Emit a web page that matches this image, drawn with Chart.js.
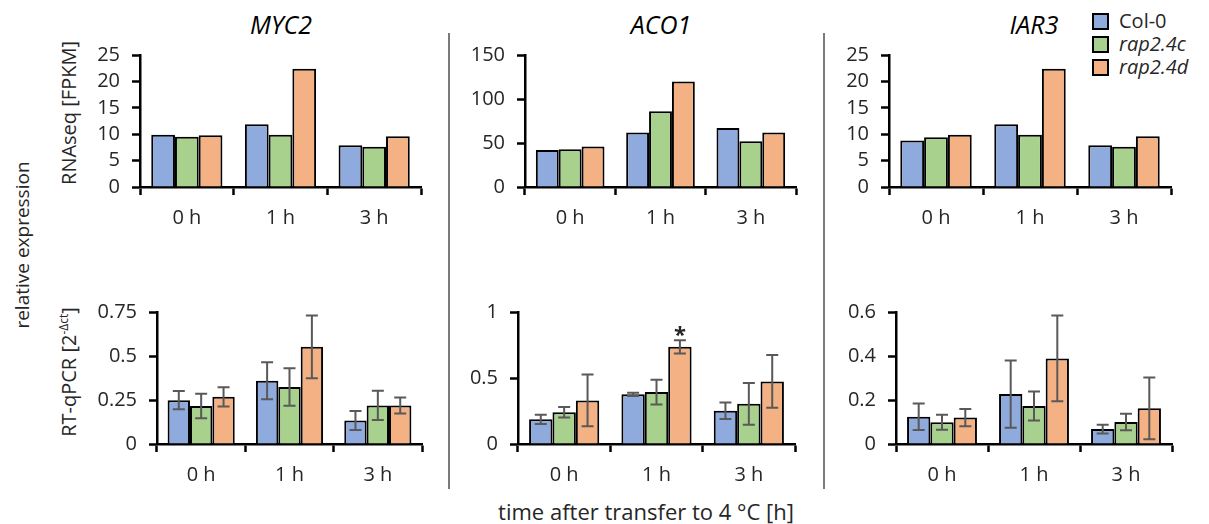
<!DOCTYPE html>
<html>
<head>
<meta charset="utf-8">
<script src="https://cdn.jsdelivr.net/npm/chart.js@4.4.1/dist/chart.umd.min.js"></script>
<style>
  body { margin: 0; background: #fff; }
  #wrap { position: relative; width: 1209px; height: 524px; overflow: hidden;
          font-family: "Open Sans", sans-serif; color: #262626; }
  canvas { position: absolute; }
  .lbl { position: absolute; white-space: nowrap; transform: translate(-50%, -50%); }
  .rot { transform: translate(-50%, -50%) rotate(-90deg); }
  .gene { font-style: italic; font-size: 25px; color: #000; }
  .sep { position: absolute; width: 2px; background: #7a7a7a; }
  .leg { position: absolute; left: 1092px; font-size: 20px; height: 24px; line-height: 24px; }
  .leg span.box { display: inline-block; width: 13px; height: 13px; border: 2px solid #000;
                  vertical-align: -2px; margin-right: 10px; }
  sup { font-size: 12px; }
</style>
</head>
<body>
<div id="wrap">
  <div class="lbl gene" style="left:281px;top:24px">MYC2</div>
  <div class="lbl gene" style="left:661px;top:24px">ACO1</div>
  <div class="lbl gene" style="left:1034px;top:24px">IAR3</div>

  <div class="lbl rot" style="left:22px;top:245px;font-size:19px">relative expression</div>
  <div class="lbl rot" style="left:68px;top:113px;font-size:20px">RNAseq [FPKM]</div>
  <div class="lbl rot" style="left:68px;top:372px;font-size:20px">RT-qPCR [2<sup>-Δct</sup>]</div>
  <div class="lbl" style="left:646px;top:511px;font-size:22px">time after transfer to 4 °C [h]</div>

  <div class="sep" style="left:448px;top:33px;height:456px"></div>
  <div class="sep" style="left:823px;top:33px;height:456px"></div>

  <div id="legend"></div>
</div>

<script>
const timePoints = ["0 h", "1 h", "3 h"];
const genotypes = ["Col-0", "rap2.4c", "rap2.4d"];
const genoColors = ["#8FAADC", "#A9D18E", "#F4B183"];

// rows = genotypes (Col-0, rap2.4c, rap2.4d), columns = 0 h, 1 h, 3 h
const myc2Rna = [[9.9, 11.9, 7.9], [9.5, 9.9, 7.6], [9.8, 22.4, 9.6]];
const aco1Rna = [[42, 62, 67], [43, 86, 52], [46, 120, 62]];
const iar3Rna = [[8.8, 11.9, 7.9], [9.4, 9.9, 7.6], [9.9, 22.4, 9.6]];

const myc2Qpcr = [[0.249, 0.359, 0.133], [0.216, 0.324, 0.219], [0.268, 0.552, 0.219]];
const myc2QpcrErr = [[0.052, 0.105, 0.054], [0.07, 0.107, 0.083], [0.055, 0.178, 0.045]];
const aco1Qpcr = [[0.187, 0.376, 0.252], [0.24, 0.393, 0.304], [0.33, 0.736, 0.474]];
const aco1QpcrErr = [[0.035, 0.012, 0.063], [0.04, 0.093, 0.158], [0.196, 0.05, 0.2]];
const iar3Qpcr = [[0.124, 0.227, 0.068], [0.099, 0.173, 0.1], [0.12, 0.389, 0.162]];
const iar3QpcrErr = [[0.06, 0.153, 0.02], [0.034, 0.066, 0.037], [0.039, 0.195, 0.14]];
const aco1QpcrStars = [["", "", ""], ["", "", ""], ["", "*", ""]];

// y axis ranges
const rnaMax = [25, 150, 25], rnaStep = [5, 50, 5];
const qpcrMax = [0.75, 1, 0.6], qpcrStep = [0.25, 0.5, 0.2];

/* ==============================
   ERROR BARS + STARS
================================ */
const errorBars = {
    id: "errorBars",
    afterDatasetsDraw(chart, args, opts) {
        if (!opts.err) return;
        const ctx = chart.ctx;
        const y = chart.scales.y;
        ctx.save();
        chart.data.datasets.forEach((ds, i) => {
            chart.getDatasetMeta(i).data.forEach((bar, j) => {
                const v = ds.data[j], e = opts.err[i][j];
                const yt = y.getPixelForValue(v + e);
                const yb = y.getPixelForValue(Math.max(v - e, 0));
                ctx.strokeStyle = "#595959";
                ctx.lineWidth = 2;
                ctx.beginPath();
                ctx.moveTo(bar.x, yt); ctx.lineTo(bar.x, yb);
                ctx.moveTo(bar.x - 6, yt); ctx.lineTo(bar.x + 6, yt);
                ctx.moveTo(bar.x - 6, yb); ctx.lineTo(bar.x + 6, yb);
                ctx.stroke();
                if (opts.stars && opts.stars[i][j]) {
                    ctx.fillStyle = "#262626";
                    ctx.font = "bold 22px 'Open Sans'";
                    ctx.textAlign = "center";
                    ctx.textBaseline = "alphabetic";
                    ctx.fillText(opts.stars[i][j], bar.x, yt + 2);
                }
            });
        });
        ctx.restore();
    }
};

/* ==============================
   ONE PANEL
================================ */
function panel(area, values, max, step, err, stars) {
    const padTop = 14, padRight = 8, yw = 80, xh = 48;
    const cv = document.createElement("canvas");
    const w = area.r - area.l + yw + padRight;
    const h = area.b - area.t + padTop + xh;
    cv.width = w; cv.height = h;
    cv.style.left = (area.l - yw) + "px";
    cv.style.top = (area.t - padTop) + "px";
    document.getElementById("wrap").appendChild(cv);

    return new Chart(cv, {
        type: "bar",
        data: {
            labels: timePoints,
            datasets: genotypes.map((g, i) => ({
                label: g,
                data: values[i],
                backgroundColor: genoColors[i],
                borderColor: "#000",
                borderWidth: 2,
                categoryPercentage: 0.76,
                barPercentage: 1.0
            }))
        },
        options: {
            responsive: false,
            animation: false,
            layout: { padding: { top: padTop, right: padRight, left: 0, bottom: 0 } },
            plugins: {
                legend: { display: false },
                tooltip: { enabled: false },
                errorBars: { err: err, stars: stars }
            },
            scales: {
                x: {
                    afterFit: s => { s.height = xh; },
                    border: { display: true, color: "#000", width: 2.5 },
                    grid: { offset: true, drawOnChartArea: false, drawTicks: true,
                            tickLength: 8, tickColor: "#000", tickWidth: 2.5 },
                    ticks: { color: "#262626", padding: 11, maxRotation: 0, autoSkip: false,
                             font: { family: "Open Sans", size: 20 } }
                },
                y: {
                    min: 0, max: max,
                    afterFit: s => { s.width = yw; },
                    border: { display: true, color: "#000", width: 2.5 },
                    grid: { drawOnChartArea: false, drawTicks: true,
                            tickLength: 8, tickColor: "#000", tickWidth: 2.5 },
                    ticks: { stepSize: step, autoSkip: false, color: "#262626", padding: 12,
                             font: { family: "Open Sans", size: 20 },
                             callback: v => String(+v.toFixed(2)) }
                }
            }
        },
        plugins: [errorBars]
    });
}

const topAreas = [
    { l: 140, r: 421, t: 45, b: 187 },
    { l: 525, r: 796, t: 45, b: 187 },
    { l: 889, r: 1171, t: 45, b: 187 }
];
const bottomAreas = [
    { l: 157, r: 422, t: 302, b: 444 },
    { l: 518, r: 795, t: 302, b: 444 },
    { l: 896, r: 1172, t: 302, b: 444 }
];

[myc2Rna, aco1Rna, iar3Rna].forEach((vals, k) =>
    panel(topAreas[k], vals, rnaMax[k], rnaStep[k], null, null));

panel(bottomAreas[0], myc2Qpcr, qpcrMax[0], qpcrStep[0], myc2QpcrErr, null);
panel(bottomAreas[1], aco1Qpcr, qpcrMax[1], qpcrStep[1], aco1QpcrErr, aco1QpcrStars);
panel(bottomAreas[2], iar3Qpcr, qpcrMax[2], qpcrStep[2], iar3QpcrErr, null);

/* ==============================
   LEGEND
================================ */
const legendBox = document.getElementById("legend");
genotypes.forEach((g, i) => {
    const row = document.createElement("div");
    row.className = "leg";
    row.style.top = (9 + i * 23) + "px";
    row.innerHTML = `<span class="box" style="background:${genoColors[i]}"></span>` +
        (i === 0 ? g : `<i>${g}</i>`);
    legendBox.appendChild(row);
});
</script>
</body>
</html>
